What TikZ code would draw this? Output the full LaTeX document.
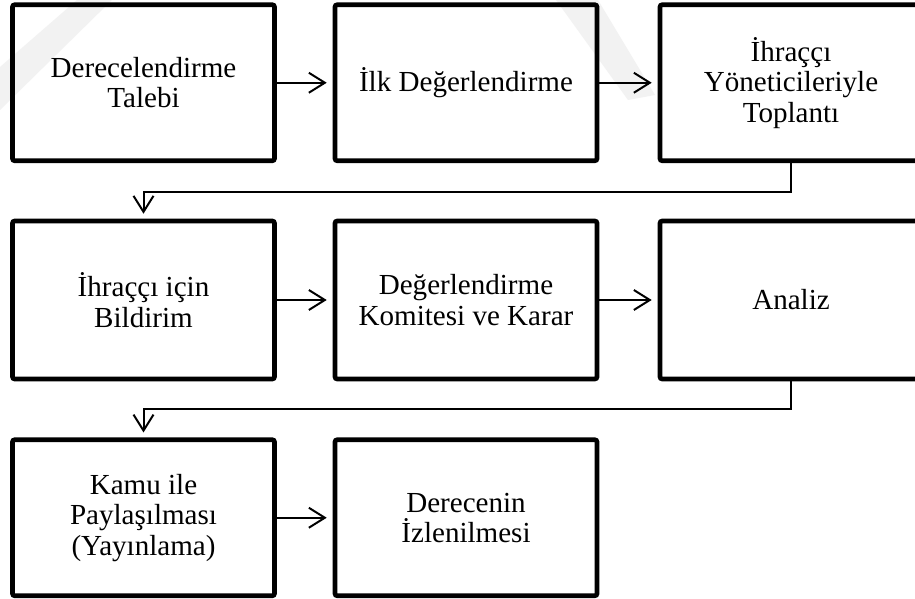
\documentclass[tikz,border=0pt]{standalone}
\usepackage{fontspec}
\setmainfont{Liberation Serif}
\usetikzlibrary{arrows.meta}

\tikzset{
  stage/.style={draw=black, line width=3.4pt, rounded corners=1.5pt,
    minimum width=196.5pt, minimum height=117pt, align=center,
    inner sep=2pt, font=\fontsize{21.8pt}{22.8pt}\selectfont},
  tallstage/.style={stage, minimum height=118.5pt},
  conn/.style={line width=1.5pt, -{Straight Barb[length=12pt,width=15pt,line width=1.5pt]}},
  flowright/.style={conn, shorten >=4.5pt},
  flowdown/.style={conn, shorten >=3.75pt},
  mark/.style={fill=black!5, draw=none}
}

\begin{document}
\begin{tikzpicture}[x=0.75pt, y=-0.75pt]
  \useasboundingbox (0,0) rectangle (915,599);
  \clip (0,0) rectangle (915,599);
  \fill[white] (0,0) rectangle (915,599);

  % faint watermark strokes in the background
  \fill[black!5] (0,67) -- (77,0) -- (112,0) -- (0,110) -- cycle;
  \fill[black!5] (556,0) -- (598,0) -- (655,95) -- (628,100) -- cycle;

  % first row
  \node[stage] (b1) at (143.5,82.75) {Derecelendirme\\Talebi};
  \node[stage] (b2) at (466,82.75) {İlk Değerlendirme};
  \node[stage] (b3) at (791,82.75) {İhraççı\\Yöneticileriyle\\Toplantı};

  % second row
  \node[tallstage] (b4) at (143.5,300) {İhraççı için\\Bildirim};
  \node[tallstage] (b5) at (466,300) {Değerlendirme\\Komitesi ve Karar};
  \node[tallstage] (b6) at (791,300) {Analiz};

  % third row
  \node[stage] (b7) at (143.5,517.75) {Kamu ile\\Paylaşılması\\(Yayınlama)};
  \node[stage] (b8) at (466,517.75) {Derecenin\\İzlenilmesi};

  % connectors
  \draw[flowright] (b1) -- (b2);
  \draw[flowright] (b2) -- (b3);
  \draw[flowdown] (b3.south) -- ++(0,29) -| (b4.north);
  \draw[flowright] (b4) -- (b5);
  \draw[flowright] (b5) -- (b6);
  \draw[flowdown] (b6.south) -- ++(0,28) -| (b7.north);
  \draw[flowright] (b7) -- (b8);
\end{tikzpicture}
\end{document}
